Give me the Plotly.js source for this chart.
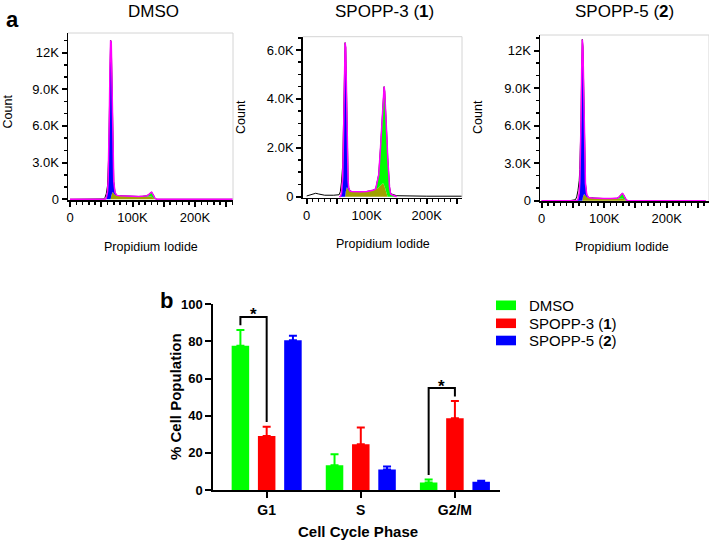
<!DOCTYPE html>
<html>
<head>
<meta charset="utf-8">
<script src="https://cdn.plot.ly/plotly-3.0.1.min.js"></script>
<style>
  html, body { margin: 0; padding: 0; background: #fff; }
  #chart { width: 709px; height: 541px; }
</style>
</head>
<body>
<div id="chart"></div>
<script>
// ---- histogram data (PI channel in K, counts) ----
const channelK = [0, 10, 15, 20, 30, 45, 54, 56, 58, 60, 61, 62, 63, 64, 65, 66, 67, 68, 69, 70,
  72, 75, 80, 90, 100, 110, 115, 120, 123, 125, 126, 127, 128, 129, 130, 131, 132, 133, 134, 135,
  136, 138, 140, 150, 200, 262];

// DMSO
const dmsoG1 = [0, 0, 0, 0, 0, 0, 0, 0, 100, 600, 1500, 3500, 7000, 11000, 13000, 12500, 9500, 5500, 2500, 1000,
  200, 0, 0, 0, 0, 0, 0, 0, 0, 0, 0, 0, 0, 0, 0, 0, 0, 0, 0, 0,
  0, 0, 0, 0, 0, 0];
const dmsoS = [0, 0, 0, 0, 0, 0, 0, 0, 0, 0, 0, 0, 0, 0, 0, 300, 550, 600, 550, 450,
  350, 320, 290, 250, 230, 230, 240, 260, 270, 270, 270, 265, 255, 245, 230, 210, 170, 125, 80, 40,
  0, 0, 0, 0, 0, 0];
const dmsoG2 = [0, 0, 0, 0, 0, 0, 0, 0, 0, 0, 0, 0, 0, 0, 0, 0, 0, 0, 0, 0,
  0, 0, 0, 0, 0, 0, 0, 0, 20, 80, 130, 190, 250, 310, 345, 350, 330, 280, 210, 140,
  80, 20, 0, 0, 0, 0];
const dmsoRaw = [0, 0, 0, 0, 0, 0, 30, 150, 450, 1100, 2000, 3700, 7000, 11000, 13000, 12800, 10050, 6100, 3050, 1450,
  550, 320, 290, 250, 230, 230, 240, 260, 290, 350, 400, 455, 505, 555, 575, 560, 500, 405, 290, 180,
  80, 20, 0, 0, 0, 0];

// SPOPP-3 (1)  (fit only over 54K-150K)
const sp3G1 = [null, null, null, null, null, null, 0, 0, 150, 800, 2000, 3600, 5400, 6300, 5900, 4300, 2400, 1000, 350, 100,
  0, 0, 0, 0, 0, 0, 0, 0, 0, 0, 0, 0, 0, 0, 0, 0, 0, 0, 0, 0,
  0, 0, 0, 0, null, null];
const sp3S = [null, null, null, null, null, null, 0, 0, 0, 0, 0, 0, 0, 0, 200, 380, 400, 350, 300, 260,
  230, 210, 200, 200, 210, 260, 300, 380, 450, 520, 540, 550, 530, 480, 400, 320, 230, 140, 60, 0,
  0, 0, 0, 0, null, null];
const sp3G2 = [null, null, null, null, null, null, 0, 0, 0, 0, 0, 0, 0, 0, 0, 0, 0, 0, 0, 0,
  0, 0, 0, 0, 0, 0, 20, 520, 1550, 2480, 2960, 3550, 3920, 4020, 3900, 3580, 3170, 2660, 2140, 1600,
  1100, 400, 100, 0, null, null];
const sp3Raw = [30, 100, 140, 110, 60, 60, 80, 200, 600, 1300, 2300, 3700, 5400, 6300, 6100, 4700, 2800, 1350, 650, 360,
  240, 210, 200, 200, 210, 260, 320, 900, 2000, 3000, 3500, 4100, 4450, 4500, 4300, 3900, 3400, 2800, 2200, 1600,
  1100, 400, 120, 40, 20, 20];

// SPOPP-5 (2)
const sp5G1 = [0, 0, 0, 0, 0, 0, 0, 0, 100, 600, 1500, 3300, 6500, 10500, 12900, 12000, 9000, 5500, 2500, 1000,
  200, 0, 0, 0, 0, 0, 0, 0, 0, 0, 0, 0, 0, 0, 0, 0, 0, 0, 0, 0,
  0, 0, 0, 0, 0, 0];
const sp5S = [0, 0, 0, 0, 0, 0, 0, 0, 0, 0, 0, 0, 0, 0, 0, 300, 550, 550, 450, 380,
  300, 250, 220, 180, 170, 170, 180, 190, 200, 200, 200, 190, 180, 170, 150, 130, 100, 70, 40, 20,
  0, 0, 0, 0, 0, 0];
const sp5G2 = [0, 0, 0, 0, 0, 0, 0, 0, 0, 0, 0, 0, 0, 0, 0, 0, 0, 0, 0, 0,
  0, 0, 0, 0, 0, 0, 0, 0, 60, 160, 230, 310, 380, 420, 410, 370, 300, 220, 150, 90,
  40, 10, 0, 0, 0, 0];
const sp5Raw = [0, 0, 0, 0, 0, 0, 80, 300, 800, 1600, 2500, 3800, 6500, 10500, 12900, 12300, 9550, 6050, 2950, 1380,
  500, 250, 220, 180, 170, 170, 180, 190, 260, 360, 430, 500, 560, 590, 560, 500, 400, 290, 190, 110,
  40, 10, 0, 0, 0, 0];

// ---- bar data ----
const phases = ['G1', 'S', 'G2/M'];
const groupNames = ['DMSO', 'SPOPP-3 (<b>1</b>)', 'SPOPP-5 (<b>2</b>)'];
const pctDmso = [77.7, 13.3, 4.1];
const errDmso = [8.5, 6.0, 1.5];
const pctSp3 = [29.1, 24.6, 38.6];
const errSp3 = [5.0, 9.0, 9.3];
const pctSp5 = [80.6, 11.1, 4.5];
const errSp5 = [2.5, 1.5, 0.5];
// significance: [phase index, group a, group b]
const sigPairs = [[0, 0, 1], [2, 0, 1]];

const FONT = 'Arial, "Liberation Sans", sans-serif';
const W = 709, H = 541;
const px = x => x / W;
const py = y => 1 - y / H;

const cBlue = '#0000ff', cGreen = '#00ff00', cOlive = '#a0a000', cMag = '#ff00ff', cRed = '#ff0000';

const traces = [];

function histTraces(n, s, g1, g2, raw) {
  const xa = 'x' + (n === 1 ? '' : n), ya = 'y' + (n === 1 ? '' : n);
  const keep = channelK.map((_, i) => s[i] !== null);
  const pick = arr => arr.filter((_, i) => keep[i]);
  const fx = pick(channelK);
  const base = { type: 'scatter', mode: 'lines', xaxis: xa, yaxis: ya, showlegend: false, hoverinfo: 'skip' };
  traces.push(Object.assign({}, base, { x: channelK, y: raw, line: { color: '#000', width: 1 } }));
  traces.push(Object.assign({}, base, { x: fx, y: pick(s), stackgroup: 'fit' + n, fill: 'tozeroy',
    fillcolor: cOlive, line: { width: 0, color: cOlive } }));
  traces.push(Object.assign({}, base, { x: fx, y: pick(g1), stackgroup: 'fit' + n, fill: 'tonexty',
    fillcolor: cBlue, line: { width: 0, color: cBlue } }));
  traces.push(Object.assign({}, base, { x: fx, y: pick(g2), stackgroup: 'fit' + n, fill: 'tonexty',
    fillcolor: cGreen, line: { width: 1.5, color: cMag } }));
}
histTraces(1, dmsoS, dmsoG1, dmsoG2, dmsoRaw);
histTraces(2, sp3S, sp3G1, sp3G2, sp3Raw);
histTraces(3, sp5S, sp5G1, sp5G2, sp5Raw);

const barVals = [pctDmso, pctSp3, pctSp5];
const barErrs = [errDmso, errSp3, errSp5];
const barCols = [cGreen, cRed, cBlue];
barVals.forEach((v, k) => {
  traces.push({
    type: 'bar', x: phases, y: v, name: groupNames[k], xaxis: 'x4', yaxis: 'y4', showlegend: false,
    marker: { color: barCols[k], line: { width: 0 } },
    error_y: { type: 'data', symmetric: false, array: barErrs[k], arrayminus: v.map(() => 0),
      color: barCols[k], thickness: 2, width: 4 },
    hoverinfo: 'skip'
  });
});

// ---- axes ----
function histX(domain, range, anchor) {
  return {
    domain, range, anchor, showline: true, linecolor: '#000', linewidth: 1.5, mirror: false,
    ticks: 'outside', ticklen: 5, tickwidth: 2, tickcolor: '#000',
    tickmode: 'array', tickvals: [0, 50, 100, 150, 200, 250], ticktext: ['0', '', '100K', '', '200K', ''],
    minor: { tickmode: 'linear', tick0: 0, dtick: 10, ticks: 'outside', ticklen: 3, tickwidth: 1.5, tickcolor: '#000' },
    showgrid: false, zeroline: false, tickfont: { family: FONT, size: 13, color: '#000' }
  };
}
function histY(domain, range, anchor, vals, text, minorStep) {
  return {
    domain, range, anchor, showline: true, linecolor: '#000', linewidth: 1.5,
    ticks: 'outside', ticklen: 5, tickwidth: 2, tickcolor: '#000',
    tickmode: 'array', tickvals: vals, ticktext: text,
    minor: { tickmode: 'linear', tick0: 0, dtick: minorStep, ticks: 'outside', ticklen: 3, tickwidth: 1.5, tickcolor: '#000' },
    showgrid: false, zeroline: false, tickfont: { family: FONT, size: 13, color: '#000' }
  };
}

const yt12 = [0, 3000, 6000, 9000, 12000], yl12 = ['0', '3.0K', '6.0K', '9.0K', '12K'];
const yt6 = [0, 2000, 4000, 6000], yl6 = ['0', '2.0K', '4.0K', '6.0K'];

// bracket geometry from bar settings
const bargap = 0.163, bargroupgap = 0.333;
const slot = (1 - bargap) / 3;
const shapes = [];
const annotations = [];
sigPairs.forEach(([p, a, b]) => {
  const xa = p + (a - 1) * slot, xb = p + (b - 1) * slot;
  const ta = barVals[a][p] + barErrs[a][p], tb = barVals[b][p] + barErrs[b][p];
  const top = Math.max(ta, tb) + 7;
  shapes.push({ type: 'path', xref: 'x4', yref: 'y4',
    path: `M${xa},${ta + 2.5} L${xa},${top} L${xb},${top} L${xb},${tb + 2.5}`,
    line: { color: '#000', width: 2 } });
  annotations.push({ xref: 'x4', yref: 'y4', x: (xa + xb) / 2, y: top, text: '*', showarrow: false,
    yanchor: 'bottom', yshift: -9.5, font: { family: FONT, size: 17, color: '#000', weight: 700 } });
});

// light grey frame on top/right of histograms
['x', 'x2', 'x3'].forEach((xa, i) => {
  const ya = 'y' + (i === 0 ? '' : i + 1);
  shapes.push({ type: 'line', xref: xa + ' domain', yref: ya + ' domain', x0: 0, x1: 1, y0: 1, y1: 1,
    line: { color: '#d4d4d4', width: 1 } });
  shapes.push({ type: 'line', xref: xa + ' domain', yref: ya + ' domain', x0: 1, x1: 1, y0: 0, y1: 1,
    line: { color: '#d4d4d4', width: 1 } });
});

function txt(x, y, text, size, opts = {}) {
  annotations.push(Object.assign({ xref: 'paper', yref: 'paper', x: px(x), y: py(y), text, showarrow: false,
    xanchor: 'center', yanchor: 'middle', font: { family: FONT, size, color: '#000' } }, opts));
}
txt(12.5, 19, 'a', 22, { font: { family: FONT, size: 22, color: '#000', weight: 700 } });
txt(153, 11, 'DMSO', 17);
txt(384, 11.5, 'SPOPP-3 (<b>1</b>)', 17);
txt(624, 11.5, 'SPOPP-5 (<b>2</b>)', 17);
txt(7.5, 112, 'Count', 12.5, { textangle: -90 });
txt(241, 117, 'Count', 12.5, { textangle: -90 });
txt(478, 117, 'Count', 12.5, { textangle: -90 });
txt(151, 247, 'Propidium Iodide', 12.5);
txt(383, 244, 'Propidium Iodide', 12.5);
txt(622, 247, 'Propidium Iodide', 12.5);
txt(166, 300, 'b', 22, { font: { family: FONT, size: 22, color: '#000', weight: 700 } });
txt(175, 397, '% Cell Population', 15, { textangle: -90, font: { family: FONT, size: 15, color: '#000', weight: 700 } });
txt(358, 531, 'Cell Cycle Phase', 15, { font: { family: FONT, size: 15, color: '#000', weight: 700 } });

// legend for panel b: colour swatch + label per group
const legendRows = [305.3, 323.3, 340.5];
groupNames.forEach((name, k) => {
  shapes.push({ type: 'rect', xref: 'paper', yref: 'paper', x0: px(496), x1: px(516),
    y0: py(legendRows[k] + 4.8), y1: py(legendRows[k] - 4.8), fillcolor: barCols[k], line: { width: 0 } });
  txt(527, legendRows[k], name, 15, { xanchor: 'left' });
});

const layout = {
  width: W, height: H,
  margin: { l: 0, r: 0, t: 0, b: 0 },
  paper_bgcolor: '#fff', plot_bgcolor: 'rgba(0,0,0,0)',
  font: { family: FONT, color: '#000' },
  barmode: 'group', bargap, bargroupgap,
  xaxis: histX([px(68), px(233)], [-3.2, 260.8], 'y'),
  yaxis: histY([py(200), py(33)], [-57, 13600], 'x', yt12, yl12, 1000),
  xaxis2: histX([px(302.7), px(462)], [-6.67, 258.8], 'y2'),
  yaxis2: histY([py(197.5), py(36.7)], [-33, 6544], 'x2', yt6, yl6, 500),
  xaxis3: histX([px(540), 1], [-2.7, 267.7], 'y3'),
  yaxis3: histY([py(201), py(35)], [-24, 13256], 'x3', yt12, yl12, 1000),
  xaxis4: {
    domain: [px(213.3), px(500)], range: [-0.567, 2.479], anchor: 'y4', type: 'category',
    showline: true, linecolor: '#000', linewidth: 2, ticks: 'outside', ticklen: 6, tickwidth: 2, tickcolor: '#000',
    showgrid: false, zeroline: false, tickfont: { family: FONT, size: 14, color: '#000', weight: 700 }
  },
  yaxis4: {
    domain: [py(490), py(304.3)], range: [0, 100], anchor: 'x4', dtick: 20,
    showline: true, linecolor: '#000', linewidth: 2, ticks: 'outside', ticklen: 6, tickwidth: 2, tickcolor: '#000',
    showgrid: false, zeroline: false, tickfont: { family: FONT, size: 13, color: '#000', weight: 700 }
  },
  showlegend: false,
  shapes, annotations
};

Plotly.newPlot('chart', traces, layout, { staticPlot: true, displayModeBar: false });
</script>
</body>
</html>
